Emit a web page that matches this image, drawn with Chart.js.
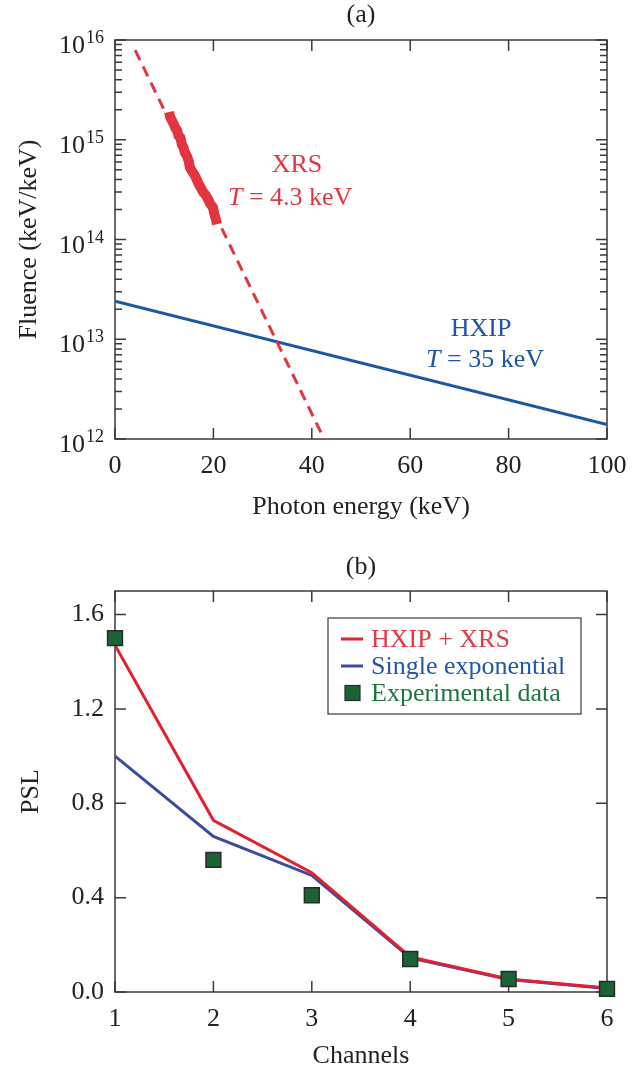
<!DOCTYPE html>
<html>
<head>
<meta charset="utf-8">
<script src="https://cdn.jsdelivr.net/npm/chart.js@4"></script>
<style>
    body { margin: 0; background: #fff; }
    canvas { display: block; }
</style>
</head>
<body>
<canvas id="spectrumChart" width="640" height="540"></canvas>
<canvas id="pslChart" width="640" height="534"></canvas>
<script>
// (a) spectra
const xrsEnergy = [11.0, 11.2, 11.6, 11.9, 12.3, 12.6, 12.9, 13.3, 13.6, 13.9, 14.2, 14.6, 15.0, 15.2, 15.7, 16.1, 16.6, 17.0, 17.3, 17.9, 18.4, 19.0, 19.3, 19.9, 20.2, 20.5, 20.7];
const xrsFluence = [1.9e15, 1.7e15, 1.55e15, 1.45e15, 1.3e15, 1.25e15, 1.1e15, 1.05e15, 8.9e14, 8.4e14, 7.4e14, 6.9e14, 6.1e14, 5.3e14, 4.8e14, 4.5e14, 4.0e14, 3.6e14, 3.4e14, 3.0e14, 2.8e14, 2.5e14, 2.3e14, 2.1e14, 1.8e14, 1.6e14, 1.42e14];
const xrsFitEnergy = [4.1, 42.5];
const xrsFitFluence = [7.9e15, 1.0e12];
const hxipEnergy = [0, 100];
const hxipFluence = [2.4e13, 1.4e12];
const fluenceDecades = [12, 13, 14, 15, 16];

// (b) image plate channels
const channels = [1, 2, 3, 4, 5, 6];
const pslTwoTemp = [1.47, 0.728, 0.506, 0.149, 0.055, 0.017];
const pslSingle = [1.0, 0.66, 0.494, 0.145, 0.053, 0.015];
const pslMeasured = [1.5, 0.56, 0.41, 0.14, 0.055, 0.013];

const serif = "'Liberation Serif', 'Times New Roman', serif";
Chart.defaults.font.family = serif;
Chart.defaults.font.size = 26;
Chart.defaults.color = '#222';

const red = '#e23540';
const blue = '#1c57a5';
const frameColor = '#3a3a3a';

function toPoints(xs, ys) {
    return xs.map((v, i) => ({ x: v, y: ys[i] }));
}

function drawFrame(ctx, a) {
    ctx.strokeStyle = frameColor;
    ctx.lineWidth = 1.5;
    ctx.strokeRect(a.left, a.top, a.right - a.left, a.bottom - a.top);
}

function drawMixedText(ctx, parts, cx, cy, color) {
    // parts: [[text, italic], ...] centered at cx
    let total = 0;
    parts.forEach(p => {
        ctx.font = (p[1] ? 'italic ' : '') + '26px ' + serif;
        total += ctx.measureText(p[0]).width;
    });
    let x = cx - total / 2;
    ctx.fillStyle = color;
    ctx.textAlign = 'left';
    ctx.textBaseline = 'middle';
    parts.forEach(p => {
        ctx.font = (p[1] ? 'italic ' : '') + '26px ' + serif;
        ctx.fillText(p[0], x, cy);
        x += ctx.measureText(p[0]).width;
    });
}

function drawPanelTitle(ctx, a, text, offset) {
    ctx.fillStyle = '#222';
    ctx.font = '26px ' + serif;
    ctx.textAlign = 'center';
    ctx.textBaseline = 'middle';
    ctx.fillText(text, (a.left + a.right) / 2, a.top - offset);
}

const spectrumDecor = {
    id: 'spectrumDecor',
    beforeDatasetsDraw(chart) {
        const { ctx, chartArea: a, scales: { x, y } } = chart;
        ctx.save();
        drawFrame(ctx, a);
        ctx.beginPath();
        x.ticks.forEach(t => {
            const px = x.getPixelForValue(t.value);
            ctx.moveTo(px, a.bottom); ctx.lineTo(px, a.bottom - 11);
            ctx.moveTo(px, a.top); ctx.lineTo(px, a.top + 11);
        });
        fluenceDecades.forEach((d, i) => {
            const py = y.getPixelForValue(Math.pow(10, d));
            ctx.moveTo(a.left, py); ctx.lineTo(a.left + 11, py);
            ctx.moveTo(a.right, py); ctx.lineTo(a.right - 11, py);
            if (i < fluenceDecades.length - 1) {
                for (let m = 2; m <= 9; m++) {
                    const pm = y.getPixelForValue(m * Math.pow(10, d));
                    ctx.moveTo(a.left, pm); ctx.lineTo(a.left + 7, pm);
                    ctx.moveTo(a.right, pm); ctx.lineTo(a.right - 7, pm);
                }
            }
        });
        ctx.stroke();

        // decade labels with superscript exponents
        ctx.fillStyle = '#222';
        ctx.textAlign = 'right';
        ctx.textBaseline = 'alphabetic';
        fluenceDecades.forEach(d => {
            const py = y.getPixelForValue(Math.pow(10, d));
            ctx.font = '18px ' + serif;
            const ew = ctx.measureText(String(d)).width;
            ctx.fillText(String(d), a.left - 11, py + 3);
            ctx.font = '26px ' + serif;
            ctx.fillText('10', a.left - 12 - ew, py + 13);
        });
        ctx.restore();
    },
    afterDatasetsDraw(chart) {
        const { ctx, chartArea: a, scales: { x, y } } = chart;
        ctx.save();
        drawMixedText(ctx, [['XRS', false]], x.getPixelForValue(37), y.getPixelForValue(5.6e14), red);
        drawMixedText(ctx, [['T', true], [' = 4.3 keV', false]], x.getPixelForValue(35.6), y.getPixelForValue(2.6e14), red);
        drawMixedText(ctx, [['HXIP', false]], x.getPixelForValue(74.4), y.getPixelForValue(1.26e13), blue);
        drawMixedText(ctx, [['T', true], [' = 35 keV', false]], x.getPixelForValue(75.2), y.getPixelForValue(6.2e12), blue);
        drawPanelTitle(ctx, a, '(a)', 25);
        ctx.restore();
    }
};

const pslDecor = {
    id: 'pslDecor',
    beforeDatasetsDraw(chart) {
        const { ctx, chartArea: a, scales: { x, y } } = chart;
        ctx.save();
        drawFrame(ctx, a);
        ctx.beginPath();
        x.ticks.forEach(t => {
            const px = x.getPixelForValue(t.value);
            ctx.moveTo(px, a.bottom); ctx.lineTo(px, a.bottom - 11);
            ctx.moveTo(px, a.top); ctx.lineTo(px, a.top + 11);
        });
        y.ticks.forEach(t => {
            const py = y.getPixelForValue(t.value);
            ctx.moveTo(a.left, py); ctx.lineTo(a.left + 11, py);
            ctx.moveTo(a.right, py); ctx.lineTo(a.right - 11, py);
        });
        ctx.stroke();
        ctx.restore();
    },
    afterDatasetsDraw(chart) {
        const { ctx, chartArea: a } = chart;
        ctx.save();
        drawPanelTitle(ctx, a, '(b)', 24);

        // legend box
        const bx = a.left + 213, by = a.top + 27, bw = 253, bh = 96;
        ctx.fillStyle = '#fff';
        ctx.fillRect(bx, by, bw, bh);
        ctx.strokeStyle = frameColor;
        ctx.lineWidth = 1.2;
        ctx.strokeRect(bx, by, bw, bh);
        ctx.font = '26px ' + serif;
        ctx.textAlign = 'left';
        ctx.textBaseline = 'middle';
        chart.data.datasets.forEach((ds, i) => {
            const ry = by + 21 + i * 27;
            if (ds.showLine === false) {
                ctx.fillStyle = ds.backgroundColor;
                ctx.fillRect(bx + 17, ry - 7.5, 15, 15);
                ctx.strokeStyle = ds.borderColor;
                ctx.lineWidth = 1.2;
                ctx.strokeRect(bx + 17, ry - 7.5, 15, 15);
            } else {
                ctx.strokeStyle = ds.borderColor;
                ctx.lineWidth = 3;
                ctx.beginPath();
                ctx.moveTo(bx + 13, ry); ctx.lineTo(bx + 35, ry);
                ctx.stroke();
            }
            ctx.fillStyle = ds.legendTextColor;
            ctx.fillText(ds.label, bx + 43, ry + 1);
        });
        ctx.restore();
    }
};

new Chart(document.getElementById('spectrumChart'), {
    type: 'line',
    data: {
        datasets: [
            { label: 'XRS', data: toPoints(xrsEnergy, xrsFluence), borderColor: red, borderWidth: 10, pointRadius: 0, borderJoinStyle: 'miter', borderCapStyle: 'butt' },
            { label: 'XRS fit', data: toPoints(xrsFitEnergy, xrsFitFluence), borderColor: red, borderWidth: 3, borderDash: [11, 7], pointRadius: 0 },
            { label: 'HXIP', data: toPoints(hxipEnergy, hxipFluence), borderColor: blue, borderWidth: 3, pointRadius: 0 }
        ]
    },
    options: {
        responsive: false,
        animation: false,
        layout: { padding: { left: 0, right: 33, top: 40, bottom: 0 } },
        plugins: { legend: { display: false }, tooltip: { enabled: false } },
        scales: {
            x: {
                type: 'linear',
                min: 0,
                max: 100,
                ticks: { stepSize: 20, padding: 12, maxRotation: 0 },
                grid: { display: false, drawTicks: false },
                border: { display: false },
                title: { display: true, text: 'Photon energy (keV)', padding: { top: 0, bottom: 17 } },
                afterFit: scale => { scale.height = 101; }
            },
            y: {
                type: 'logarithmic',
                min: 1e12,
                max: 1e16,
                ticks: { display: false },
                grid: { display: false, drawTicks: false },
                border: { display: false },
                title: { display: true, text: 'Fluence (keV/keV)', padding: { top: 14, bottom: 0 } },
                afterFit: scale => { scale.width = 115; }
            }
        }
    },
    plugins: [spectrumDecor]
});

new Chart(document.getElementById('pslChart'), {
    type: 'line',
    data: {
        datasets: [
            { label: 'HXIP + XRS', data: toPoints(channels, pslTwoTemp), borderColor: '#e2202e', legendTextColor: '#e23a44', borderWidth: 3, pointRadius: 0, order: 1 },
            { label: 'Single exponential', data: toPoints(channels, pslSingle), borderColor: '#3b4ba0', legendTextColor: '#2157a8', borderWidth: 3, pointRadius: 0, order: 2 },
            { label: 'Experimental data', data: toPoints(channels, pslMeasured), showLine: false, pointStyle: 'rect', pointRadius: 10.5, backgroundColor: '#1a6334', borderColor: '#2a2a2a', borderWidth: 1.5, legendTextColor: '#1d7540', clip: false, order: 0 }
        ]
    },
    options: {
        responsive: false,
        animation: false,
        layout: { padding: { left: 0, right: 33, top: 51, bottom: 0 } },
        plugins: { legend: { display: false }, tooltip: { enabled: false } },
        scales: {
            x: {
                type: 'linear',
                min: 1,
                max: 6,
                ticks: { stepSize: 1, padding: 12, maxRotation: 0 },
                grid: { display: false, drawTicks: false },
                border: { display: false },
                title: { display: true, text: 'Channels', padding: { top: 0, bottom: 2 } },
                afterFit: scale => { scale.height = 82; }
            },
            y: {
                type: 'linear',
                min: 0,
                max: 1.7,
                ticks: { stepSize: 0.4, includeBounds: false, padding: 11, callback: v => v.toFixed(1) },
                grid: { display: false, drawTicks: false },
                border: { display: false },
                title: { display: true, text: 'PSL', padding: { top: 16, bottom: 0 } },
                afterFit: scale => { scale.width = 115; }
            }
        }
    },
    plugins: [pslDecor]
});
</script>
</body>
</html>
